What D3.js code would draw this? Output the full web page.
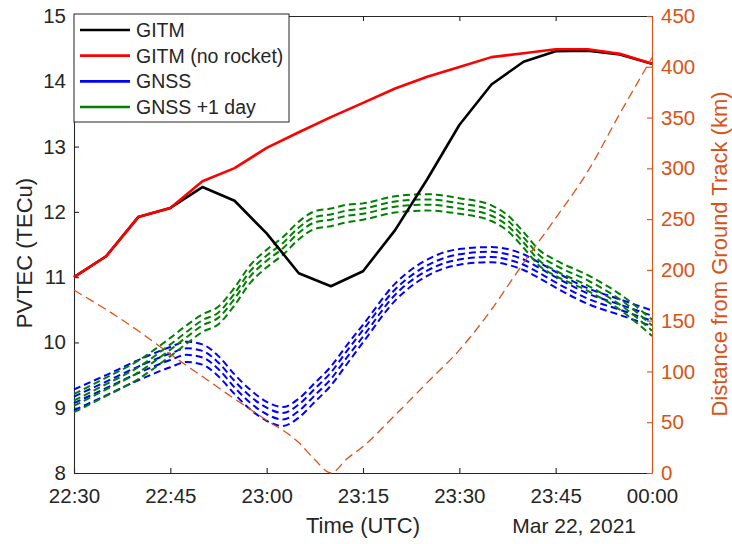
<!DOCTYPE html>
<html>
<head>
<meta charset="utf-8">
<script src="https://cdn.jsdelivr.net/npm/d3@7"></script>
<style>
  html, body { margin: 0; padding: 0; background: #fff; }
  svg { display: block; font-family: "Liberation Sans", Arial, Helvetica, sans-serif; }
</style>
</head>
<body>
<svg id="chart" width="732" height="544"></svg>
<script>
// Minutes after 22:30 UTC, 21 Mar 2021
const gitmMinutes = [0, 5, 10, 15, 20, 25, 30, 35, 40, 45, 50, 55, 60, 65, 70, 75, 80, 85, 90];
const gitm        = [11.0, 11.32, 11.92, 12.06, 12.38, 12.17, 11.67, 11.06, 10.86, 11.09, 11.72, 12.5, 13.33, 13.95, 14.3, 14.46, 14.47, 14.41, 14.27];
const gitmNoRocket = [11.0, 11.32, 11.92, 12.06, 12.47, 12.67, 12.98, 13.22, 13.45, 13.67, 13.89, 14.07, 14.22, 14.37, 14.43, 14.49, 14.49, 14.42, 14.27];

const gnssMinutes = [0, 5, 10, 15, 17.5, 20, 22.5, 25, 27.5, 30, 32.5, 35, 37.5, 40, 42.5, 45, 50, 55, 60, 65, 67.5, 70, 72.5, 75, 80, 85, 90];
// GNSS PVTEC, four receiver tracks
const gnssA = [9.28, 9.50, 9.73, 9.93, 10.01, 9.97, 9.79, 9.51, 9.27, 9.09, 9.01, 9.14, 9.38, 9.63, 9.96, 10.27, 10.90, 11.27, 11.43, 11.46, 11.43, 11.35, 11.22, 11.08, 10.83, 10.66, 10.49];
const gnssB = [9.17, 9.40, 9.63, 9.83, 9.91, 9.87, 9.69, 9.41, 9.17, 9.00, 8.92, 9.05, 9.29, 9.54, 9.87, 10.19, 10.81, 11.18, 11.35, 11.39, 11.35, 11.27, 11.14, 11.00, 10.75, 10.58, 10.41];
const gnssC = [9.07, 9.30, 9.53, 9.73, 9.81, 9.77, 9.59, 9.31, 9.07, 8.90, 8.82, 8.95, 9.19, 9.44, 9.77, 10.09, 10.73, 11.10, 11.27, 11.31, 11.27, 11.19, 11.06, 10.92, 10.67, 10.50, 10.33];
const gnssD = [8.96, 9.19, 9.42, 9.62, 9.70, 9.66, 9.48, 9.21, 8.97, 8.80, 8.72, 8.85, 9.09, 9.34, 9.67, 10.00, 10.64, 11.02, 11.19, 11.23, 11.19, 11.11, 10.98, 10.84, 10.59, 10.42, 10.25];
// GNSS PVTEC one day later, same tracks
const nextDayA = [9.21, 9.46, 9.72, 10.07, 10.26, 10.43, 10.55, 10.84, 11.19, 11.42, 11.61, 11.85, 12.01, 12.05, 12.11, 12.13, 12.24, 12.27, 12.21, 12.10, 11.95, 11.69, 11.41, 11.26, 11.03, 10.74, 10.35];
const nextDayB = [9.11, 9.36, 9.62, 9.97, 10.16, 10.34, 10.46, 10.75, 11.10, 11.33, 11.52, 11.76, 11.92, 11.96, 12.02, 12.05, 12.16, 12.19, 12.13, 12.02, 11.87, 11.61, 11.33, 11.18, 10.95, 10.66, 10.26];
const nextDayC = [9.03, 9.28, 9.54, 9.89, 10.08, 10.26, 10.38, 10.67, 11.02, 11.25, 11.44, 11.68, 11.84, 11.88, 11.94, 11.97, 12.08, 12.11, 12.05, 11.94, 11.79, 11.53, 11.25, 11.10, 10.87, 10.58, 10.18];
const nextDayD = [8.93, 9.18, 9.44, 9.79, 9.98, 10.16, 10.28, 10.57, 10.92, 11.15, 11.34, 11.58, 11.74, 11.78, 11.84, 11.88, 11.99, 12.02, 11.97, 11.86, 11.71, 11.45, 11.17, 11.02, 10.79, 10.50, 10.10];

// Distance of the pierce point from the rocket ground track (km)
const distMinutes = [0, 5, 10, 15, 20, 25, 30, 35, 37.5, 40, 42.5, 45, 50, 55, 60, 65, 70, 75, 80, 85, 90];
const distKm      = [180, 161, 140, 117, 95, 73, 52, 30, 13, 0, 14, 26, 57, 89, 121, 161, 207, 251, 297, 354, 409];

const leftTicks  = [8, 9, 10, 11, 12, 13, 14, 15];
const rightTicks = [0, 50, 100, 150, 200, 250, 300, 350, 400, 450];
const legendLabels = ["GITM", "GITM (no rocket)", "GNSS", "GNSS +1 day"];
const legendColors = ["#000000", "#ff0000", "#0000ff", "#008000"];

const ORANGE = "#D95319";
const AXIS = "#262626";
const t0 = Date.UTC(2021, 2, 21, 22, 30);
const toDate = m => new Date(t0 + m * 60000);

const svg = d3.select("#chart");
const L = 74, R = 652, T = 16, B = 473;

const x = d3.scaleUtc().domain([toDate(0), toDate(90)]).range([L, R]);
const y = d3.scaleLinear().domain([8, 15]).range([B, T]);
const yR = d3.scaleLinear().domain([0, 450]).range([B, T]);

const tickFont = "20.5px";

// Axes
const xTicks = d3.range(0, 91, 15).map(toDate);
const gx = svg.append("g").attr("transform", `translate(0,${B})`)
  .call(d3.axisBottom(x).tickValues(xTicks).tickFormat(d3.utcFormat("%H:%M"))
    .tickSizeInner(-5).tickSizeOuter(0).tickPadding(15));
const gxTop = svg.append("g").attr("transform", `translate(0,${T})`)
  .call(d3.axisTop(x).tickValues(xTicks).tickFormat("")
    .tickSizeInner(-5).tickSizeOuter(0));
const gy = svg.append("g").attr("transform", `translate(${L},0)`)
  .call(d3.axisLeft(y).tickValues(leftTicks).tickFormat(d3.format("d"))
    .tickSizeInner(-5).tickSizeOuter(0).tickPadding(8));
const gyR = svg.append("g").attr("transform", `translate(${R},0)`)
  .call(d3.axisRight(yR).tickValues(rightTicks).tickFormat(d3.format("d"))
    .tickSizeInner(-5).tickSizeOuter(0).tickPadding(9));

[gx, gxTop, gy].forEach(g => {
  g.selectAll("path, line").attr("stroke", AXIS).attr("stroke-width", 1.1);
  g.selectAll("text").attr("fill", AXIS).style("font-size", tickFont)
    .style("font-family", '"Liberation Sans", Arial, sans-serif');
});
gyR.selectAll("path, line").attr("stroke", ORANGE).attr("stroke-width", 1.1);
gyR.selectAll("text").attr("fill", ORANGE).style("font-size", tickFont)
  .style("font-family", '"Liberation Sans", Arial, sans-serif');

// Data lines
const plot = svg.append("g");
const lineT = (ts) => d3.line().x((d, i) => x(toDate(ts[i]))).y(d => y(d));

function dashed(vals, color) {
  plot.append("path").datum(vals)
    .attr("d", lineT(gnssMinutes).curve(d3.curveMonotoneX))
    .attr("fill", "none").attr("stroke", color).attr("stroke-width", 2)
    .attr("stroke-dasharray", "7,4");
}
[gnssA, gnssB, gnssC, gnssD].forEach(v => dashed(v, "#0000ff"));
[nextDayA, nextDayB, nextDayC, nextDayD].forEach(v => dashed(v, "#008000"));

plot.append("path").datum(gitm)
  .attr("d", lineT(gitmMinutes))
  .attr("fill", "none").attr("stroke", "#000").attr("stroke-width", 2.6)
  .attr("stroke-linejoin", "round");
plot.append("path").datum(gitmNoRocket)
  .attr("d", lineT(gitmMinutes))
  .attr("fill", "none").attr("stroke", "#ff0000").attr("stroke-width", 2.6)
  .attr("stroke-linejoin", "round");

plot.append("path").datum(distKm)
  .attr("d", d3.line().x((d, i) => x(toDate(distMinutes[i]))).y(d => yR(d)).curve(d3.curveMonotoneX))
  .attr("fill", "none").attr("stroke", ORANGE).attr("stroke-width", 1.3)
  .attr("stroke-dasharray", "9,5");

// Axis titles
svg.append("text").attr("x", (L + R) / 2).attr("y", 533)
  .attr("text-anchor", "middle").attr("fill", AXIS).style("font-size", "22px")
  .text("Time (UTC)");
svg.append("text").attr("x", 636).attr("y", 533)
  .attr("text-anchor", "end").attr("fill", AXIS).style("font-size", "21px")
  .text("Mar 22, 2021");
svg.append("text").attr("transform", "translate(32,253) rotate(-90)")
  .attr("text-anchor", "middle").attr("fill", AXIS).style("font-size", "22px")
  .text("PVTEC (TECu)");
svg.append("text").attr("transform", "translate(727,254) rotate(-90)")
  .attr("text-anchor", "middle").attr("fill", ORANGE).style("font-size", "22px")
  .text("Distance from Ground Track (km)");

// Legend
const lg = svg.append("g");
lg.append("rect").attr("x", L).attr("y", 14).attr("width", 215).attr("height", 108)
  .attr("fill", "#fff").attr("stroke", AXIS).attr("stroke-width", 1);
const rowY = d3.scalePoint().domain(legendLabels).range([30, 107]);
legendLabels.forEach((lab, i) => {
  lg.append("line").attr("x1", 80).attr("x2", 130)
    .attr("y1", rowY(lab)).attr("y2", rowY(lab))
    .attr("stroke", legendColors[i]).attr("stroke-width", 2.6);
  lg.append("text").attr("x", 136).attr("y", rowY(lab)).attr("dy", "0.36em")
    .attr("fill", AXIS).style("font-size", "19.5px").text(lab);
});
</script>
</body>
</html>
